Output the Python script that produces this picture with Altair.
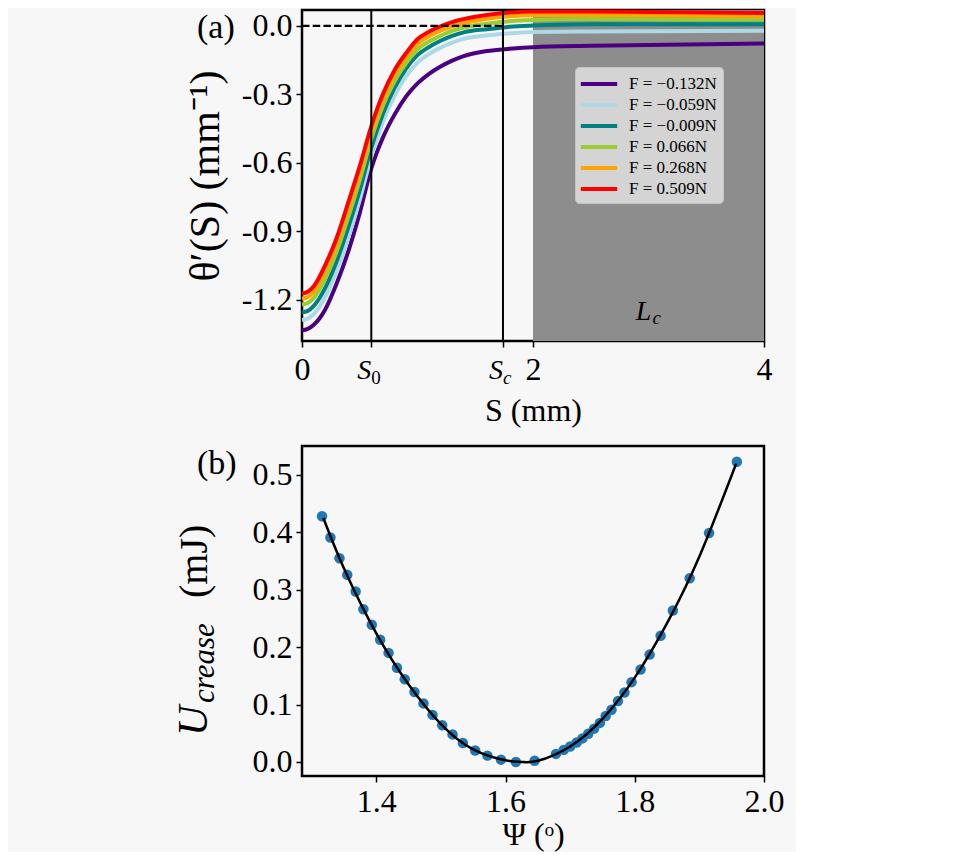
import altair as alt
import pandas as pd

SERIF = "Liberation Serif"

# ---------------- panel (a): curvature profiles ----------------
S_mm = [0.0, 0.05, 0.1, 0.2, 0.3, 0.4, 0.5, 0.6, 0.7, 0.8, 0.9, 1.0, 1.1, 1.2, 1.3, 1.4,
        1.6, 1.8, 2.0, 2.5, 3.0, 3.5, 4.0]
theta_F_m0132 = [-1.335, -1.329, -1.312, -1.245, -1.130, -0.990, -0.820, -0.625, -0.490, -0.390,
                 -0.310, -0.252, -0.210, -0.178, -0.152, -0.132, -0.110, -0.100, -0.093, -0.087,
                 -0.083, -0.080, -0.077]
theta_F_m0059 = [-1.290, -1.284, -1.265, -1.190, -1.074, -0.930, -0.763, -0.573, -0.422, -0.308,
                 -0.221, -0.161, -0.123, -0.095, -0.073, -0.056, -0.042, -0.032, -0.026, -0.024,
                 -0.023, -0.022, -0.021]
theta_F_m0009 = [-1.256, -1.250, -1.229, -1.150, -1.032, -0.885, -0.720, -0.534, -0.386, -0.273,
                 -0.188, -0.128, -0.092, -0.065, -0.044, -0.028, -0.014, -0.003, 0.002, 0.007,
                 0.008, 0.008, 0.007]
theta_F_p0066 = [-1.222, -1.215, -1.194, -1.109, -0.990, -0.840, -0.677, -0.496, -0.351, -0.244,
                 -0.164, -0.103, -0.068, -0.043, -0.022, -0.007, 0.010, 0.021, 0.026, 0.030,
                 0.029, 0.028, 0.028]
theta_F_p0268 = [-1.197, -1.189, -1.167, -1.077, -0.958, -0.805, -0.644, -0.466, -0.325, -0.218,
                 -0.141, -0.079, -0.045, -0.021, -0.002, 0.012, 0.032, 0.043, 0.047, 0.048,
                 0.047, 0.045, 0.044]
theta_F_p0509 = [-1.174, -1.166, -1.143, -1.050, -0.930, -0.775, -0.615, -0.440, -0.300, -0.195,
                 -0.120, -0.058, -0.025, -0.002, 0.017, 0.030, 0.048, 0.059, 0.063, 0.063,
                 0.061, 0.059, 0.057]
force_labels = ["F = \u22120.132N", "F = \u22120.059N", "F = \u22120.009N",
                "F = 0.066N", "F = 0.268N", "F = 0.509N"]
force_colors = ["#4b0082", "#add8e6", "#008080", "#9acd32", "#ffa500", "#ff0000"]
S0_pos = 0.6
Sc_pos = 1.74
Lc_start = 2.0
Lc_end = 4.0
x_ticks_a = [0, 0.6, 1.74, 2, 4]
y_ticks_a = [0.0, -0.3, -0.6, -0.9, -1.2]

# ---------------- panel (b): crease energy ----------------
psi_data = [1.316, 1.329, 1.343, 1.355, 1.368, 1.380, 1.393, 1.406, 1.419, 1.432,
            1.444, 1.459, 1.473, 1.487, 1.502, 1.518, 1.534, 1.553, 1.572, 1.593,
            1.616, 1.645, 1.678, 1.690, 1.700, 1.710, 1.719, 1.728, 1.737, 1.746,
            1.755, 1.764, 1.774, 1.784, 1.795, 1.809, 1.823, 1.840, 1.859, 1.885,
            1.915, 1.958]
u_data = [0.428, 0.391, 0.355, 0.326, 0.297, 0.266, 0.239, 0.213, 0.190, 0.164,
          0.144, 0.122, 0.102, 0.082, 0.064, 0.048, 0.033, 0.020, 0.011, 0.004,
          0.000, 0.002, 0.014, 0.021, 0.027, 0.034, 0.041, 0.049, 0.058, 0.068,
          0.080, 0.091, 0.106, 0.121, 0.139, 0.161, 0.187, 0.220, 0.264, 0.320,
          0.399, 0.523]
psi_fit = [1.318, 1.35, 1.40, 1.45, 1.50, 1.55, 1.60, 1.625, 1.65, 1.70, 1.75, 1.80,
           1.85, 1.90, 1.957]
u_fit = [0.425, 0.337, 0.224, 0.135, 0.066, 0.022, 0.003, 0.000, 0.002, 0.027, 0.075,
         0.147, 0.242, 0.358, 0.520]
x_ticks_b = [1.4, 1.6, 1.8, 2.0]
y_ticks_b = [0.0, 0.1, 0.2, 0.3, 0.4, 0.5]

# ---------------- tables ----------------
series = [theta_F_m0132, theta_F_m0059, theta_F_m0009, theta_F_p0066, theta_F_p0268, theta_F_p0509]
rows = []
for lab, vals in zip(force_labels, series):
    for s, v in zip(S_mm, vals):
        rows.append({"S": s, "theta": v, "F": lab})
df_a = pd.DataFrame(rows)

W = 462
H_A = 331
H_B = 330

xa_scale = alt.Scale(domain=[0, 4], nice=False, zero=False)
ya_scale = alt.Scale(domain=[-1.382, 0.070], nice=False, zero=False)

lc_rect = alt.Chart(pd.DataFrame({"a": [Lc_start], "b": [Lc_end]})).mark_rect(
    color="#8d8d8d").encode(
    x=alt.X("a:Q", scale=xa_scale), x2="b:Q", y=alt.value(0), y2=alt.value(H_A))

lines = alt.Chart(df_a).mark_line(strokeWidth=4, interpolate="monotone").encode(
    x=alt.X("S:Q", scale=xa_scale,
            axis=alt.Axis(values=x_ticks_a, title="S (mm)", labelFlush=False, labelPadding=7,
                          labelExpr="datum.value == 0 ? '0' : datum.value == 2 ? '2' : datum.value == 4 ? '4' : ''",
                          titlePadding=10)),
    y=alt.Y("theta:Q", scale=ya_scale,
            axis=alt.Axis(values=y_ticks_a, title="\u03b8\u2032(S) (mm\u207b\u00b9)",
                          labelExpr="replace(format(datum.value, '.1f'), '\u2212', '-')",
                          titleFontSize=42, titlePadding=14)),
    color=alt.Color("F:N", scale=alt.Scale(domain=force_labels, range=force_colors),
                    legend=alt.Legend(orient="none", legendX=273, legendY=57, title=None,
                                      symbolType="M-2.1,0H2.1", symbolSize=300,
                                      symbolStrokeWidth=4, symbolOffset=7, labelOffset=19,
                                      rowPadding=2, padding=6,
                                      labelFont=SERIF, labelFontSize=17, labelColor="black",
                                      fillColor="#d4d4d4", strokeColor="#c4c4c4",
                                      cornerRadius=4)),
    detail="F:N",
)

vrules = alt.Chart(pd.DataFrame({"S": [S0_pos, Sc_pos]})).mark_rule(
    color="black", strokeWidth=2).encode(x=alt.X("S:Q", scale=xa_scale))

zero_line = alt.Chart(pd.DataFrame({"a": [0.0], "b": [Sc_pos], "y": [0.0]})).mark_rule(
    color="black", strokeWidth=2.2, strokeDash=[7.5, 3.2]).encode(
    x=alt.X("a:Q", scale=xa_scale), x2="b:Q", y=alt.Y("y:Q", scale=ya_scale))

lc_main = alt.Chart(pd.DataFrame({"S": [2.89], "y": [-1.289], "t": ["L"]})).mark_text(
    font=SERIF, fontStyle="italic", fontSize=28, align="left", baseline="alphabetic",
    color="black").encode(x=alt.X("S:Q", scale=xa_scale), y=alt.Y("y:Q", scale=ya_scale), text="t:N")
lc_sub = alt.Chart(pd.DataFrame({"S": [3.035], "y": [-1.307], "t": ["c"]})).mark_text(
    font=SERIF, fontStyle="italic", fontSize=19, align="left", baseline="alphabetic",
    color="black").encode(x=alt.X("S:Q", scale=xa_scale), y=alt.Y("y:Q", scale=ya_scale), text="t:N")

s_main = alt.Chart(pd.DataFrame({"S": [S0_pos, Sc_pos], "t": ["S", "S"]})).mark_text(
    font=SERIF, fontStyle="italic", fontSize=28, align="right", baseline="alphabetic",
    color="black").encode(x=alt.X("S:Q", scale=xa_scale), y=alt.value(H_A + 38), text="t:N")
s_sub0 = alt.Chart(pd.DataFrame({"S": [S0_pos], "t": ["0"]})).mark_text(
    font=SERIF, fontSize=19, align="left", baseline="alphabetic",
    color="black").encode(x=alt.X("S:Q", scale=xa_scale), y=alt.value(H_A + 43), text="t:N")
s_subc = alt.Chart(pd.DataFrame({"S": [Sc_pos], "t": ["c"]})).mark_text(
    font=SERIF, fontStyle="italic", fontSize=19, align="left", baseline="alphabetic",
    color="black").encode(x=alt.X("S:Q", scale=xa_scale), y=alt.value(H_A + 43), text="t:N")

tag_a = alt.Chart(pd.DataFrame({"t": ["(a)"]})).mark_text(
    font=SERIF, fontSize=34, align="left", baseline="middle", color="black").encode(
    x=alt.value(-105), y=alt.value(18), text="t:N")

top = alt.layer(lc_rect, lines, vrules, zero_line, lc_main, lc_sub, s_main, s_sub0, s_subc,
                tag_a).properties(width=W, height=H_A)

# ---------------- panel (b) ----------------
xb_scale = alt.Scale(domain=[1.285, 2.0], nice=False, zero=False)
yb_scale = alt.Scale(domain=[-0.0245, 0.5505], nice=False, zero=False)

pts = alt.Chart(pd.DataFrame({"psi": psi_data, "u": u_data})).mark_circle(
    size=110, color="#1f77b4", opacity=1).encode(
    x=alt.X("psi:Q", scale=xb_scale,
            axis=alt.Axis(values=x_ticks_b, format=".1f", title="\u03a8 (\u1d52)",
                          labelFlush=False, titlePadding=2, titleFontSize=32)),
    y=alt.Y("u:Q", scale=yb_scale,
            axis=alt.Axis(values=y_ticks_b, format=".1f", title=None)))

fit = alt.Chart(pd.DataFrame({"psi": psi_fit, "u": u_fit})).mark_line(
    color="black", strokeWidth=2.5, interpolate="natural").encode(
    x=alt.X("psi:Q", scale=xb_scale), y=alt.Y("u:Q", scale=yb_scale))

tag_b = alt.Chart(pd.DataFrame({"t": ["(b)"]})).mark_text(
    font=SERIF, fontSize=34, align="left", baseline="middle", color="black").encode(
    x=alt.value(-105), y=alt.value(18), text="t:N")

yt_U = alt.Chart(pd.DataFrame({"t": ["U"]})).mark_text(
    font=SERIF, fontStyle="italic", fontSize=42, angle=270, align="left", baseline="alphabetic",
    color="black").encode(x=alt.value(-95), y=alt.value(290), text="t:N")
yt_sub = alt.Chart(pd.DataFrame({"t": ["crease"]})).mark_text(
    font=SERIF, fontStyle="italic", fontSize=31, angle=270, align="left", baseline="alphabetic",
    color="black").encode(x=alt.value(-88), y=alt.value(257), text="t:N")
yt_unit = alt.Chart(pd.DataFrame({"t": ["(mJ)"]})).mark_text(
    font=SERIF, fontSize=40, angle=270, align="left", baseline="alphabetic",
    color="black").encode(x=alt.value(-95), y=alt.value(152), text="t:N")

bottom = alt.layer(pts, fit, tag_b, yt_U, yt_sub, yt_unit).properties(width=W, height=H_B)

chart = alt.vconcat(top, bottom, spacing=16).properties(
    padding={"left": 163, "top": -6, "right": 10, "bottom": 0}
).configure(background="#f7f7f7").configure_view(
    stroke="black", strokeWidth=2.5
).configure_axis(
    grid=False, domain=False, labelFont=SERIF, titleFont=SERIF, labelColor="black",
    titleColor="black", tickColor="black", tickWidth=1.5, tickSize=6, labelPadding=4,
    titleFontWeight="normal", labelFontSize=32, titleFontSize=32
)

chart.save("out.html", embed_options={"renderer": "svg", "actions": False})
